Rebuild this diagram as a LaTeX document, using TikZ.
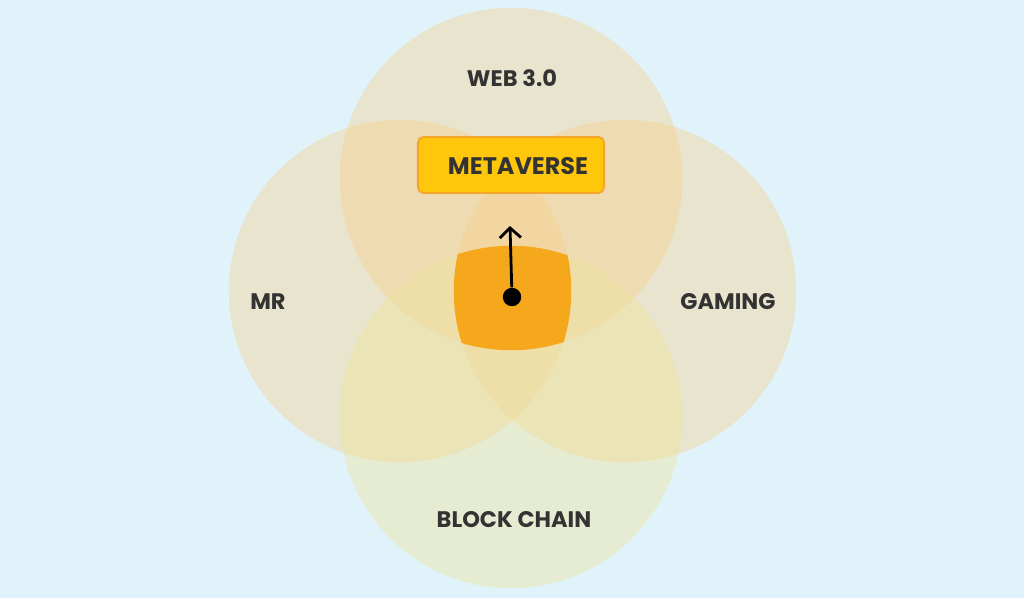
\documentclass[tikz,border=0pt]{standalone}
\usepackage{fontspec}
\setmainfont{Poppins}
\usepackage{xcolor}
\usepackage{tikz}
\usetikzlibrary{arrows.meta}
\definecolor{skybg}{HTML}{E0F3FB}
\definecolor{sand}{HTML}{F6D08E}
\definecolor{lime}{HTML}{EFE49A}
\definecolor{core}{HTML}{F5A81C}
\definecolor{gold}{HTML}{FFC70C}
\definecolor{goldline}{HTML}{F2A62A}
\definecolor{ink}{HTML}{333333}

\begin{document}
\begin{tikzpicture}[x=0.025cm, y=-0.025cm, semithick]
\tikzstyle{ring}=[fill=sand, fill opacity=0.42]
\tikzstyle{label}=[text=ink, font=\fontsize{16}{18}\selectfont\bfseries]
\tikzstyle{badge}=[draw=goldline, line width=1.4pt, fill=gold, rounded corners=4pt,
                   minimum width=4.65cm, minimum height=1.4cm]
\tikzstyle{pin}=[circle, fill=black, inner sep=0pt, minimum size=0.46cm]
\tikzstyle{pointer}=[line width=2pt, -{Straight Barb[length=7pt, width=15pt, line width=2pt]}]
  \fill[skybg] (0,0) rectangle (1024,598);
  \useasboundingbox (0,0) rectangle (1024,598);
  \fill[ring] (511,179) circle (4.28cm);
  \fill[ring] (400,291) circle (4.28cm);
  \fill[ring] (625,291) circle (4.28cm);
  \fill[ring, fill=lime] (511,417) circle (4.28cm);
  \begin{scope}
    \clip (511,179) circle (4.28cm);
    \clip (400,291) circle (4.28cm);
    \clip (625,291) circle (4.28cm);
    \clip (511,417) circle (4.28cm);
    \fill[core] (400,200) rectangle (620,400);
  \end{scope}
  \node[label] (web) at (512,78) {WEB 3.0};
  \node[label] (mr) at (268,302) {MR};
  \node[label] (gaming) at (728,302) {GAMING};
  \node[label] (chain) at (514,520) {BLOCK CHAIN};
  \node[badge] (meta) at (511,165) {};
  \node[label, font=\fontsize{17}{19}\selectfont\bfseries] (metatext) at (518,166) {METAVERSE};
  \node[pin] (dot) at (512,297) {};
  \coordinate (up) at (510,226);
  \draw[pointer] (dot) -- (up);
\end{tikzpicture}
\end{document}
